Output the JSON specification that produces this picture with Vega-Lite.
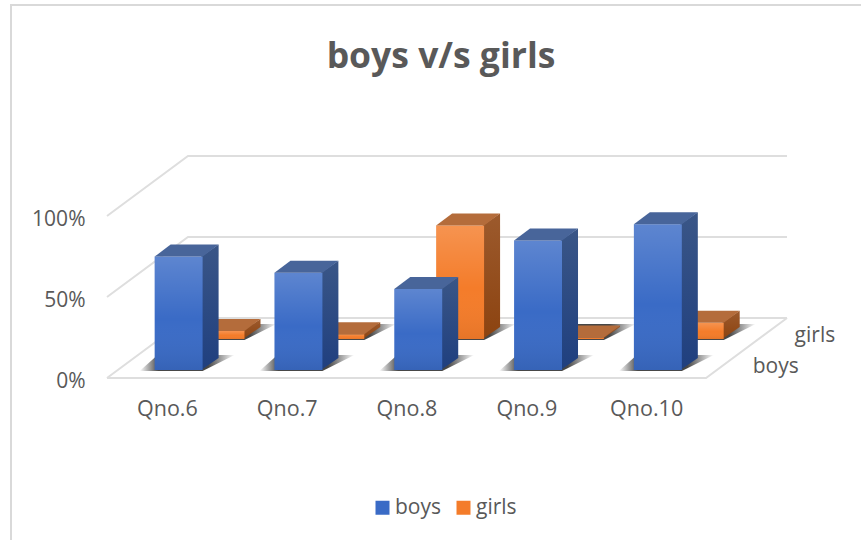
{
"$schema":"https://vega.github.io/schema/vega-lite/v6.json",
"width":860,"height":545,
"autosize":{"type":"none"},
"padding":{"left":11,"top":5,"right":0,"bottom":0},
"background":"white",
"view":{"stroke":"#D9D9D9","strokeWidth":2},
"title":{"text":"boys v/s girls","anchor":"middle","fontSize":35.5,"font":"Open Sans","fontWeight":"bold","color":"#595959","baseline":"alphabetic","offset":0,"dy":98},
"data":{"values":[
{"question":"Qno.6","series":"boys","value":70},
{"question":"Qno.7","series":"boys","value":60},
{"question":"Qno.8","series":"boys","value":50},
{"question":"Qno.9","series":"boys","value":80},
{"question":"Qno.10","series":"boys","value":90},
{"question":"Qno.6","series":"girls","value":5},
{"question":"Qno.7","series":"girls","value":3},
{"question":"Qno.8","series":"girls","value":70},
{"question":"Qno.9","series":"girls","value":1},
{"question":"Qno.10","series":"girls","value":10}
]},
"transform":[
{"calculate":"indexof(['Qno.6','Qno.7','Qno.8','Qno.9','Qno.10'],datum.question)","as":"i"},
{"calculate":"datum.series==='boys'?0.133:0.65","as":"d"},
{"calculate":"datum.i+0.508+0.676*datum.d","as":"cx"},
{"calculate":"37.04*datum.d","as":"base"},
{"calculate":"datum.base+datum.value","as":"top"},
{"calculate":"datum.cx-0.2","as":"left"},
{"calculate":"datum.cx+0.2","as":"right"}
],
"layer":[
{"data":{"values":[
{"line":"w0","cat":0,"depth":0,"pct":0},{"line":"w0","cat":0,"depth":1,"pct":0},{"line":"w0","cat":5,"depth":1,"pct":0},
{"line":"w50","cat":0,"depth":0,"pct":50},{"line":"w50","cat":0,"depth":1,"pct":50},{"line":"w50","cat":5,"depth":1,"pct":50},
{"line":"w100","cat":0,"depth":0,"pct":100},{"line":"w100","cat":0,"depth":1,"pct":100},{"line":"w100","cat":5,"depth":1,"pct":100},
{"line":"floor","cat":0,"depth":0,"pct":0},{"line":"floor","cat":5,"depth":0,"pct":0},{"line":"floor","cat":5,"depth":1,"pct":0}
]},
"transform":[{"calculate":"datum.cat+0.676*datum.depth","as":"X"},{"calculate":"datum.pct+37.04*datum.depth","as":"Y"}],
"mark":{"type":"line","color":"#DEDEDE","strokeWidth":2},
"encoding":{
"x":{"field":"X","type":"quantitative","scale":{"domain":[-0.8013,6.377],"nice":false,"zero":false},"title":null,
"axis":{"orient":"bottom","offset":-152,"values":[0.5,1.5,2.5,3.5,4.5],"labelExpr":"'Qno.'+(datum.value+5.5)","ticks":false,"domain":false,"grid":false,"labelPadding":0,"labelFontSize":21.5,"labelFont":"Open Sans","labelColor":"#595959","labelOverlap":false,"labelBound":false,"labelFlush":false,"labelAngle":0,"title":null}},
"y":{"field":"Y","type":"quantitative","scale":{"domain":[-106.17,230.25],"nice":false,"zero":false},"title":null,
"axis":{"orient":"left","offset":-74,"values":[0,50,100],"labelExpr":"datum.value+'%'","ticks":false,"domain":false,"grid":false,"labelPadding":0,"labelFontSize":21,"labelFont":"Open Sans","labelColor":"#595959","labelOverlap":false,"labelBound":false,"labelFlush":false,"labelOffset":3,"title":null}},
"detail":{"field":"line"}}},
{"mark":{"type":"point","shape":"M-0.78,0.02 L0.48,0.02 L1.12,-0.3 L-0.42,-0.3 Z","size":10000,"filled":true,"opacity":1,"strokeWidth":0,
"color":{"gradient":"linear","x1":0,"y1":0,"x2":1,"y2":0,"stops":[{"offset":0,"color":"rgba(25,25,25,0)"},{"offset":0.2,"color":"rgba(25,25,25,0.8)"},{"offset":0.72,"color":"rgba(25,25,25,0.8)"},{"offset":1,"color":"rgba(25,25,25,0)"}]}},
"encoding":{"x":{"field":"cx","type":"quantitative","title":null},"y":{"field":"base","type":"quantitative","title":null}}},

{"transform":[{"filter":"datum.series==='girls'"},{"calculate":"0","as":"p0"},{"calculate":"1","as":"p1"},{"fold":["p0","p1"],"as":["k","t"]},{"calculate":"datum.right-0.012+datum.t*0.1456","as":"sx"},{"calculate":"datum.base+datum.t*7.41","as":"sy0"},{"calculate":"datum.top+datum.t*7.41","as":"sy1"}],
"mark":{"type":"area","opacity":1,"color":{"gradient":"linear","x1":0,"y1":0,"x2":0,"y2":1,"stops":[{"offset":0,"color":"#9C5A2D"},{"offset":1,"color":"#8C4310"}]}},
"encoding":{"x":{"field":"sx","type":"quantitative","title":null},"y":{"field":"sy1","type":"quantitative","title":null},"y2":{"field":"sy0"},"detail":{"field":"question"}}},
{"transform":[{"filter":"datum.series==='girls'"}],
"mark":{"type":"bar","opacity":1},
"encoding":{"x":{"field":"left","type":"quantitative","title":null},"x2":{"field":"right"},"y":{"field":"base","type":"quantitative","title":null},"y2":{"field":"top"},
"color":{"field":"series","type":"nominal","scale":{"domain":["boys","girls"],"range":["#3A6BC6","#F47C2A"]},
"legend":{"orient":"none","legendX":361,"legendY":492,"direction":"horizontal","title":null,"symbolType":"square","symbolSize":196,"symbolStrokeWidth":0,"labelFontSize":21,"labelFont":"Open Sans","labelColor":"#595959","padding":0,"columnPadding":11,"labelOffset":2}}}},
{"transform":[{"filter":"datum.series==='girls'"}],
"mark":{"type":"bar","opacity":1,"color":{"gradient":"linear","x1":0,"y1":0,"x2":0,"y2":1,"stops":[{"offset":0,"color":"rgba(255,255,255,0.18)"},{"offset":0.55,"color":"rgba(255,255,255,0)"},{"offset":1,"color":"rgba(0,0,0,0.06)"}]}},
"encoding":{"x":{"field":"left","type":"quantitative","title":null},"x2":{"field":"right"},"y":{"field":"base","type":"quantitative","title":null},"y2":{"field":"top"}}},
{"transform":[{"filter":"datum.series==='girls'"}],
"mark":{"type":"point","shape":"M-0.48,0 L0.48,0 L0.8,-0.24 L-0.16,-0.24 Z","size":10000,"filled":true,"opacity":1,"color":"#B46C3B","strokeWidth":0},
"encoding":{"x":{"field":"cx","type":"quantitative","title":null},"y":{"field":"top","type":"quantitative","title":null}}},

{"transform":[{"filter":"datum.series==='boys'"},{"calculate":"0","as":"p0"},{"calculate":"1","as":"p1"},{"fold":["p0","p1"],"as":["k","t"]},{"calculate":"datum.right-0.012+datum.t*0.1456","as":"sx"},{"calculate":"datum.base+datum.t*7.41","as":"sy0"},{"calculate":"datum.top+datum.t*7.41","as":"sy1"}],
"mark":{"type":"area","opacity":1,"color":{"gradient":"linear","x1":0,"y1":0,"x2":0,"y2":1,"stops":[{"offset":0,"color":"#3A5687"},{"offset":1,"color":"#1F3F7F"}]}},
"encoding":{"x":{"field":"sx","type":"quantitative","title":null},"y":{"field":"sy1","type":"quantitative","title":null},"y2":{"field":"sy0"},"detail":{"field":"question"}}},
{"transform":[{"filter":"datum.series==='boys'"}],
"mark":{"type":"bar","opacity":1},
"encoding":{"x":{"field":"left","type":"quantitative","title":null},"x2":{"field":"right"},"y":{"field":"base","type":"quantitative","title":null},"y2":{"field":"top"},
"color":{"field":"series","type":"nominal"}}},
{"transform":[{"filter":"datum.series==='boys'"}],
"mark":{"type":"bar","opacity":1,"color":{"gradient":"linear","x1":0,"y1":0,"x2":0,"y2":1,"stops":[{"offset":0,"color":"rgba(255,255,255,0.18)"},{"offset":0.55,"color":"rgba(255,255,255,0)"},{"offset":1,"color":"rgba(0,0,0,0.08)"}]}},
"encoding":{"x":{"field":"left","type":"quantitative","title":null},"x2":{"field":"right"},"y":{"field":"base","type":"quantitative","title":null},"y2":{"field":"top"}}},
{"transform":[{"filter":"datum.series==='boys'"}],
"mark":{"type":"point","shape":"M-0.48,0 L0.48,0 L0.8,-0.24 L-0.16,-0.24 Z","size":10000,"filled":true,"opacity":1,"color":"#48659A","strokeWidth":0},
"encoding":{"x":{"field":"cx","type":"quantitative","title":null},"y":{"field":"top","type":"quantitative","title":null}}},

{"data":{"values":[{"series":"boys"},{"series":"girls"}]},
"transform":[{"calculate":"datum.series==='boys'?0.133:0.65","as":"d"},{"calculate":"5.3+0.676*datum.d","as":"lx"},{"calculate":"2+37.04*datum.d","as":"ly"}],
"mark":{"type":"text","align":"left","baseline":"middle","fontSize":21,"font":"Open Sans","color":"#595959"},
"encoding":{"x":{"field":"lx","type":"quantitative","title":null},"y":{"field":"ly","type":"quantitative","title":null},"text":{"field":"series"}}}
]
}
